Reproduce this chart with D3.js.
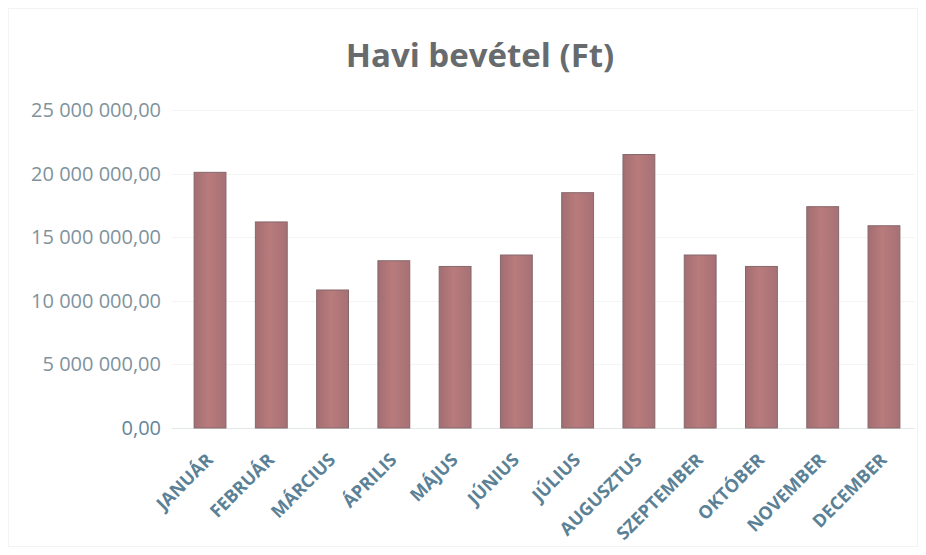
<!DOCTYPE html>
<html>
<head>
<meta charset="utf-8">
<script src="https://cdn.jsdelivr.net/npm/d3@7"></script>
<style>
	body { margin: 0; background: #fff; }
	svg { display: block; }
</style>
</head>
<body>
<div id="chart"></div>
<script>
var months = ["JANUÁR", "FEBRUÁR", "MÁRCIUS", "ÁPRILIS", "MÁJUS", "JÚNIUS",
	"JÚLIUS", "AUGUSZTUS", "SZEPTEMBER", "OKTÓBER", "NOVEMBER", "DECEMBER"];
var revenue = [20100000, 16200000, 10850000, 13150000, 12700000, 13600000,
	18500000, 21500000, 13600000, 12700000, 17400000, 15900000];
var yTicks = [0, 5000000, 10000000, 15000000, 20000000, 25000000];
var title = "Havi bevétel (Ft)";

var width = 926, height = 555;

var huLocale = d3.formatLocale({ decimal: ",", thousands: " ", grouping: [3], currency: ["", " Ft"] });
var fmt = huLocale.format(",.2f");

var svg = d3.select("#chart").append("svg")
	.attr("width", width)
	.attr("height", height);

// bar gradient, a bit darker at the edges
var grad = svg.append("defs").append("linearGradient")
	.attr("id", "barGrad")
	.attr("x1", "0%").attr("x2", "100%")
	.attr("y1", "0%").attr("y2", "0%");
grad.append("stop").attr("offset", "0%").attr("stop-color", "#a26e72");
grad.append("stop").attr("offset", "45%").attr("stop-color", "#b97b7c");
grad.append("stop").attr("offset", "100%").attr("stop-color", "#a67175");

// faint chart border
svg.append("rect")
	.attr("x", 8.5).attr("y", 8.5)
	.attr("width", width - 17).attr("height", height - 17)
	.attr("fill", "none")
	.attr("stroke", "#f2f3f3");

var x = d3.scaleBand()
	.domain(months)
	.range([179.4, 914.6])
	.paddingInner(0.48)
	.paddingOuter(0.24);

var y = d3.scaleLinear()
	.domain([0, 25000000])
	.range([428, 110]);

// gridlines
svg.append("g")
	.selectAll("line")
	.data(yTicks)
	.enter()
		.append("line")
			.attr("x1", 172)
			.attr("x2", 915)
			.attr("y1", function (d) { return Math.round(y(d)) + 0.5; })
			.attr("y2", function (d) { return Math.round(y(d)) + 0.5; })
			.attr("stroke", function (d) { return d === 0 ? "#e2e8ea" : "#f3f4f4"; })
			.attr("stroke-width", 1);

// y axis labels
var yAxis = d3.axisLeft(y)
	.tickValues(yTicks)
	.tickFormat(fmt)
	.tickSize(0)
	.tickPadding(0);

var yg = svg.append("g")
	.attr("transform", "translate(161,0)")
	.call(yAxis);
yg.select(".domain").remove();
yg.selectAll("text")
	.attr("font-family", "'Open Sans', sans-serif")
	.attr("font-size", 20)
	.attr("fill", function (d) { return d === 0 ? "#62869a" : "#7f939d"; });

// bars
svg.append("g")
	.selectAll("rect")
	.data(revenue)
	.enter()
		.append("rect")
			.attr("x", function (d, i) { return x(months[i]); })
			.attr("y", function (d) { return y(d); })
			.attr("width", x.bandwidth())
			.attr("height", function (d) { return y(0) - y(d); })
			.attr("fill", "url(#barGrad)")
			.attr("stroke", "#86686c")
			.attr("stroke-width", 1);

// x axis labels
var xAxis = d3.axisBottom(x)
	.tickSize(0)
	.tickPadding(0);

var xg = svg.append("g")
	.call(xAxis);
xg.select(".domain").remove();
xg.selectAll(".tick text")
	.attr("transform", "translate(4,461) rotate(-45)")
	.attr("y", 0)
	.attr("dy", 0)
	.attr("text-anchor", "end")
	.attr("font-family", "'Open Sans', sans-serif")
	.attr("font-size", 18)
	.attr("font-weight", 700)
	.attr("fill", "#5b8196");

// title
svg.append("text")
	.attr("x", 480)
	.attr("y", 67)
	.attr("text-anchor", "middle")
	.attr("font-family", "'Open Sans', sans-serif")
	.attr("font-size", 33)
	.attr("font-weight", 700)
	.attr("fill", "#676b6e")
	.text(title);
</script>
</body>
</html>
